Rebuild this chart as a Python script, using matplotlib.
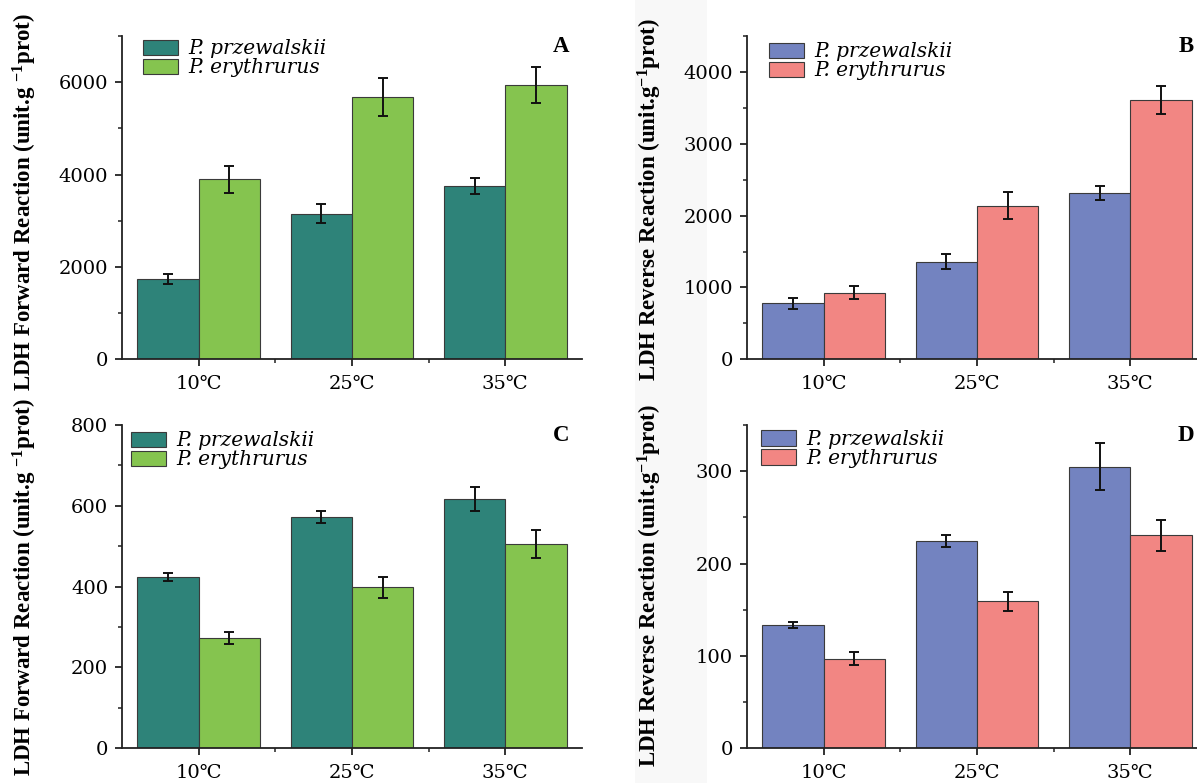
import matplotlib
matplotlib.use("Agg")
import matplotlib.pyplot as plt
import numpy as np
from matplotlib.patches import Rectangle

plt.rcParams['font.family'] = ['DejaVu Serif', 'Liberation Serif']
plt.rcParams['mathtext.fontset'] = 'custom'
plt.rcParams['mathtext.rm'] = 'Liberation Serif:bold'
plt.rcParams['mathtext.default'] = 'rm'

categories = ["10℃", "25℃", "35℃"]
species = ["P. przewalskii", "P. erythrurus"]

# Panel A: LDH forward reaction (first tissue)
a_pp = [1744, 3155, 3748]
a_pp_err = [108, 210, 175]
a_pe = [3893, 5680, 5941]
a_pe_err = [290, 405, 395]

# Panel B: LDH reverse reaction (first tissue)
b_pp = [777, 1358, 2312]
b_pp_err = [72, 107, 100]
b_pe = [926, 2140, 3605]
b_pe_err = [90, 188, 193]

# Panel C: LDH forward reaction (second tissue)
c_pp = [424, 572, 617]
c_pp_err = [11, 14, 29]
c_pe = [272, 398, 505]
c_pe_err = [15, 25, 35]

# Panel D: LDH reverse reaction (second tissue)
d_pp = [133.7, 224.8, 304.7]
d_pp_err = [3.5, 6.5, 25.5]
d_pe = [97.2, 159, 230.6]
d_pe_err = [7, 10.5, 17]

teal, green = "#2e8379", "#85c44f"
blue, salmon = "#7383c0", "#f28683"

W, H = 1197, 783
fig = plt.figure(figsize=(W / 100, H / 100), dpi=100)
# light grey strip behind right-hand y labels
fig.patches.append(Rectangle((635 / W, 0), (707 - 635) / W, 1, transform=fig.transFigure,
                             facecolor="#f8f8f8", edgecolor="none", zorder=-5))

def px_axes(left, top, right, bottom):
    ax = fig.add_axes([left / W, 1 - bottom / H, (right - left) / W, (bottom - top) / H])
    ax.patch.set_alpha(0)
    return ax

panels = [
    dict(box=(122, 36, 582, 359.3), pp=a_pp, ppe=a_pp_err, pe=a_pe, pee=a_pe_err, cols=(teal, green),
         ylim=7000, major=2000, ylabel=r"LDH Forward Reaction (unit.g $^{-1}$prot)", letter="A",
         leg=(0.046, 0.99), lab_y=0.487),
    dict(box=(747, 36, 1207, 359.3), pp=b_pp, ppe=b_pp_err, pe=b_pe, pee=b_pe_err, cols=(blue, salmon),
         ylim=4500, major=1000, ylabel=r"LDH Reverse Reaction (unit.g$^{-1}$prot)", letter="B",
         leg=(0.048, 0.98), lab_y=0.494),
    dict(box=(122, 425, 582, 748.3), pp=c_pp, ppe=c_pp_err, pe=c_pe, pee=c_pe_err, cols=(teal, green),
         ylim=800, major=200, ylabel=r"LDH Forward Reaction (unit.g $^{-1}$prot)", letter="C",
         leg=(0.02, 0.98), lab_y=0.5),
    dict(box=(747, 425, 1207, 748.3), pp=d_pp, ppe=d_pp_err, pe=d_pe, pee=d_pe_err, cols=(blue, salmon),
         ylim=350, major=100, ylabel=r"LDH Reverse Reaction (unit.g$^{-1}$prot)", letter="D",
         leg=(0.03, 0.985), lab_y=0.505),
]

x = np.arange(1, len(categories) + 1)
bw = 0.4
for p in panels:
    ax = px_axes(*p["box"])
    c1, c2 = p["cols"]
    ax.bar(x - bw / 2, p["pp"], bw, color=c1, edgecolor="#3a3a3a", linewidth=0.8, label=species[0], zorder=2)
    ax.bar(x + bw / 2, p["pe"], bw, color=c2, edgecolor="#3a3a3a", linewidth=0.8, label=species[1], zorder=2)
    ekw = dict(fmt="none", ecolor="#111111", elinewidth=1.4, capsize=3.3, capthick=1.4, zorder=3)
    ax.errorbar(x - bw / 2, p["pp"], yerr=p["ppe"], **ekw)
    ax.errorbar(x + bw / 2, p["pe"], yerr=p["pee"], **ekw)
    ax.set_xlim(0.5, 3.5)
    ax.set_ylim(0, p["ylim"])
    ax.set_xticks(x)
    ax.set_xticklabels(categories)
    ax.set_xticks([1.5, 2.5], minor=True)
    ax.set_yticks(np.arange(0, p["ylim"] + 1, p["major"]))
    ax.set_yticks(np.arange(p["major"] / 2, p["ylim"] + 1, p["major"]), minor=True)
    for s in ("top", "right"):
        ax.spines[s].set_visible(False)
    for s in ("left", "bottom"):
        ax.spines[s].set_linewidth(1.3)
        ax.spines[s].set_color("#222222")
    ax.tick_params(axis="both", which="major", direction="out", length=5, width=1.3, labelsize=14,
                   colors="#222222", labelcolor="black")
    ax.tick_params(axis="both", which="minor", direction="out", length=3, width=1.1, colors="#222222")
    ax.tick_params(axis="x", which="major", pad=6)
    ax.tick_params(axis="y", which="major", pad=5)
    ax.set_ylabel(p["ylabel"], fontsize=16.5, fontweight="bold", family="Liberation Serif")
    ax.yaxis.set_label_coords(-0.18, p["lab_y"])
    ax.text(0.955, 1.0, p["letter"], transform=ax.transAxes, ha="center", va="top",
            fontsize=16.5, fontweight="bold", family="Liberation Serif")
    leg = ax.legend(loc="upper left", bbox_to_anchor=p["leg"], frameon=False, borderpad=0,
                    borderaxespad=0, handlelength=1.75, handleheight=0.8, handletextpad=0.5,
                    labelspacing=0.0, prop=dict(family="DejaVu Serif", size=14.5, style="italic"))
    for h in leg.legend_handles:
        h.set_edgecolor("#3a3a3a")
        h.set_linewidth(0.8)

fig.savefig("out.png", dpi=100)
